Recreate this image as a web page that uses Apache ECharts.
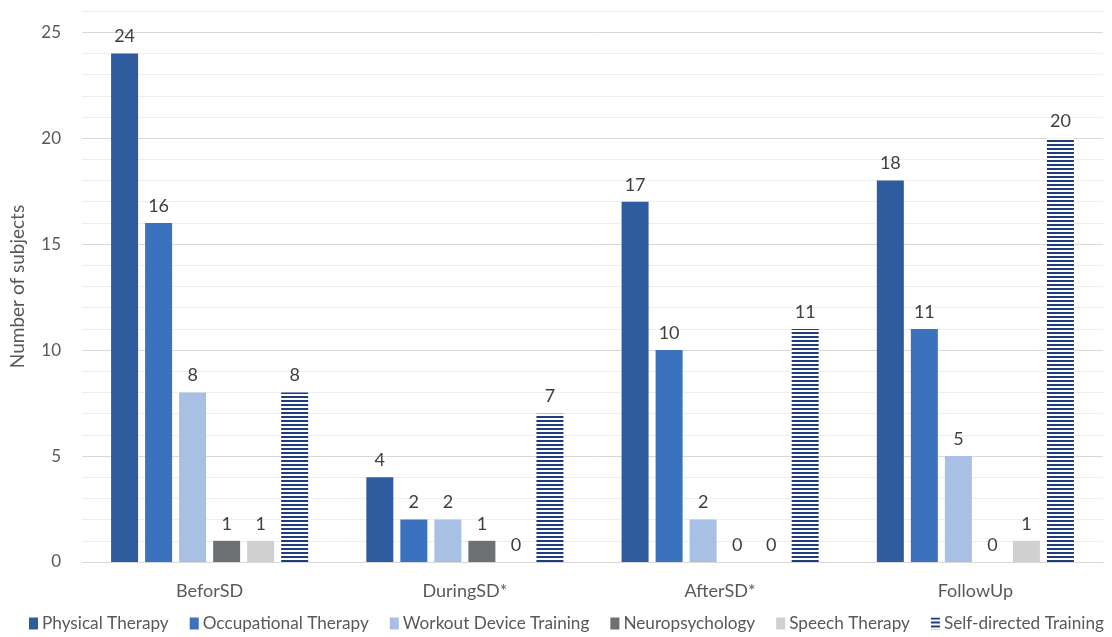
<!DOCTYPE html>
<html>
<head>
<meta charset="utf-8">
<script src="https://cdn.jsdelivr.net/npm/echarts@6/dist/echarts.min.js"></script>
<style>
html,body{margin:0;padding:0;background:#fff;}
#c{width:1112px;height:637px;}
</style>
</head>
<body>
<div id="c"></div>
<script>
const categories = ['BeforSD', 'DuringSD*', 'AfterSD*', 'FollowUp'];
const physicalTherapy = [24, 4, 17, 18];
const occupationalTherapy = [16, 2, 10, 11];
const workoutDeviceTraining = [8, 2, 2, 5];
const neuropsychology = [1, 1, 0, 0];
const speechTherapy = [1, 0, 0, 1];
const selfDirectedTraining = [8, 7, 11, 20];
const yTickLabels = [0, 5, 10, 15, 20, 25];

const FONT = 'Lato, "Open Sans", sans-serif';

function stripePattern() {
  const cv = document.createElement('canvas');
  cv.width = 8; cv.height = 4;
  const ctx = cv.getContext('2d');
  ctx.fillStyle = '#ffffff';
  ctx.fillRect(0, 0, 8, 4);
  ctx.fillStyle = '#1f3d7a';
  ctx.fillRect(0, 0, 8, 2);
  return cv;
}
const stripe = { image: stripePattern(), repeat: 'repeat' };

const seriesDefs = [
  { name: 'Physical Therapy', data: physicalTherapy, color: '#2e5c9f' },
  { name: 'Occupational Therapy', data: occupationalTherapy, color: '#3b72bf' },
  { name: 'Workout Device Training', data: workoutDeviceTraining, color: '#a7c0e3' },
  { name: 'Neuropsychology', data: neuropsychology, color: '#6e7174' },
  { name: 'Speech Therapy', data: speechTherapy, color: '#d0d0d0' },
  { name: 'Self-directed Training', data: selfDirectedTraining, color: stripe }
];

const chart = echarts.init(document.getElementById('c'));
const minorColors = ['#d9d9d9', '#eeeeee', '#eeeeee', '#eeeeee', '#eeeeee'];

chart.setOption({
  animation: false,
  backgroundColor: '#ffffff',
  textStyle: { fontFamily: FONT },
  grid: { left: 81, right: 9, top: 11, bottom: 75 },
  legend: {
    bottom: 0,
    left: 24,
    right: 0,
    itemWidth: 9,
    itemHeight: 12,
    itemGap: 21,
    icon: 'rect',
    textStyle: { fontFamily: FONT, fontSize: 17.2, color: '#595959', padding: [0, 0, 0, -1] },
    data: seriesDefs.map(s => s.name)
  },
  xAxis: {
    type: 'category',
    data: categories,
    axisTick: { show: false },
    axisLine: { lineStyle: { color: '#d9d9d9', width: 1 } },
    axisLabel: { color: '#595959', fontSize: 18, margin: 20, fontFamily: FONT }
  },
  yAxis: {
    type: 'value',
    min: 0,
    max: 26,
    interval: 1,
    name: 'Number of subjects',
    nameLocation: 'middle',
    nameGap: 55,
    nameTextStyle: { color: '#595959', fontSize: 19, fontFamily: FONT },
    axisLine: { show: false },
    axisTick: { show: false },
    axisLabel: {
      color: '#595959', fontSize: 17, margin: 21, fontFamily: FONT,
      formatter: v => (yTickLabels.indexOf(v) >= 0 ? String(v) : '')
    },
    splitLine: { lineStyle: { color: minorColors, width: 1 } }
  },
  series: seriesDefs.map(s => ({
    name: s.name,
    type: 'bar',
    data: s.data,
    barWidth: 27,
    barGap: '26%',
    itemStyle: { color: s.color },
    label: {
      show: true,
      position: 'top',
      distance: 8,
      color: '#404040',
      fontSize: 18,
      fontFamily: FONT
    }
  }))
});
</script>
</body>
</html>
